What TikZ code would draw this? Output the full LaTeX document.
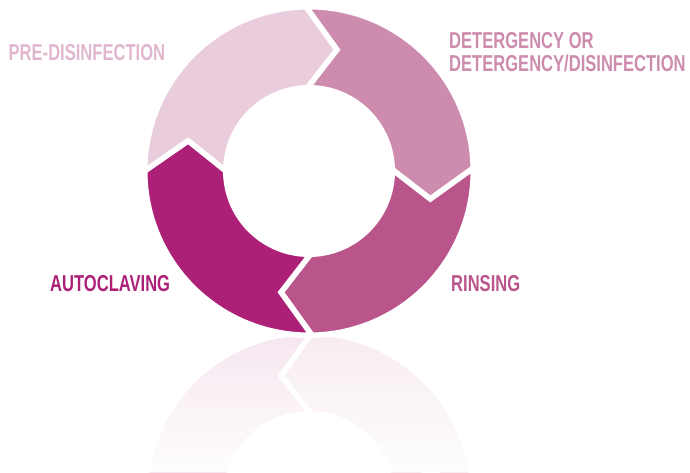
\documentclass[tikz,border=0pt]{standalone}
\usepackage{fontspec}
\newfontfamily\labelfont[FakeStretch=0.72]{Liberation Sans}
\usetikzlibrary{fadings}
\definecolor{predis}{HTML}{E9CDDC}
\definecolor{deterg}{HTML}{CD8CAE}
\definecolor{rins}{HTML}{BA558C}
\definecolor{autocl}{HTML}{AC2177}
\definecolor{predistxt}{HTML}{E0B7CE}
\tikzfading[name=reflfade, top color=transparent!100, bottom color=transparent!5]
\newcommand\ringseg[3]{%colour, head angle, tail angle
	\filldraw[seg,fill=#1] (#2:\Ro) arc[start angle=#2,end angle=#3,radius=\Ro]
		-- (#3-14:\Rm) -- (#3:\Ri) arc[start angle=#3,end angle=#2,radius=\Ri]
		-- (#2-14:\Rm) -- cycle;}
\begin{document}
\begin{tikzpicture}[x=1pt,y=1pt,
		seg/.style={draw=white,line width=5.5pt,line join=miter},
		lbl/.style={anchor=base west,inner sep=0pt,font=\labelfont\bfseries\fontsize{23}{23.4}\selectfont}]
	\useasboundingbox (0,0) rectangle (690,472);
	\def\Ro{164.25}\def\Ri{83.25}\def\Rm{124.5}
	%reflection
	\begin{scope}[shift={(309,-25)},yscale=-1]
		\foreach \col/\a/\b in {rins/-89/1,autocl/-180/-89}{
			\ringseg{\col!11!white}{\a}{\b}
		}
	\end{scope}
	\fill[white,path fading=reflfade] (0,0) rectangle (690,137);
	%ring
	\begin{scope}[shift={(309,301)}]
		\foreach \col/\a/\b in {predis/91/180,deterg/1/91,rins/-89/1,autocl/-180/-89}{
			\ringseg{\col}{\a}{\b}
		}
	\end{scope}
	%labels
	\node[lbl,text=predistxt] (predislbl) at (8.5,411) {PRE-DISINFECTION};
	\node[lbl,text=deterg,align=left] (deterglbl) at (449,400.3) {DETERGENCY OR\\DETERGENCY/DISINFECTION};
	\node[lbl,text=autocl] (autocllbl) at (50,180.3) {AUTOCLAVING};
	\node[lbl,text=rins] (rinslbl) at (451,180.3) {RINSING};
\end{tikzpicture}
\end{document}
